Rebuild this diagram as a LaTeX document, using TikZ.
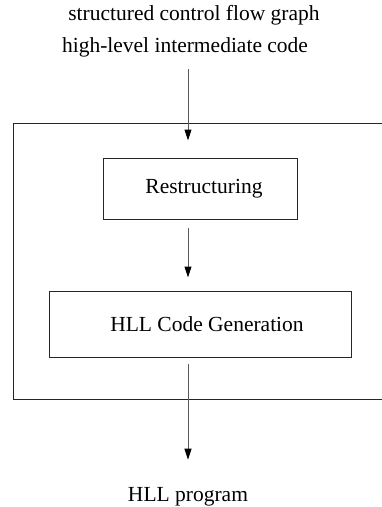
\documentclass[tikz,border=0pt]{standalone}
\usepackage{fontspec}
\setmainfont{Liberation Serif}
\usetikzlibrary{arrows.meta}
\begin{document}
\begin{tikzpicture}[x=1pt,y=-1pt,
  every node/.style={font=\fontsize{21.5}{26}\selectfont, inner sep=0pt},
  stage/.style={draw=black!85, line width=1pt, anchor=center},
  flow/.style={draw=black!65, line width=1pt,
    -{Triangle[length=11pt,width=7pt,color=black]}}]
  \useasboundingbox (0,0) rectangle (382,507);
  \begin{scope}
    \clip (0,0) rectangle (382,507);
    % enclosing frame, running past the right edge
    \draw[black!85, line width=1pt] (13,123) rectangle (400,399);
  \end{scope}
  % inputs
  \node[anchor=base] (cfg) at (194,20) {structured control flow graph};
  \node[anchor=base] (hl) at (185,52) {high-level intermediate code};
  % stages
  \node[stage, minimum width=194pt, minimum height=61pt] (rest) at (200,188.5)
    {\hspace*{8pt}Restructuring};
  \node[stage, minimum width=302pt, minimum height=66pt] (gen) at (200,324)
    {\hspace*{14pt}HLL Code Generation};
  % output
  \node[anchor=base] (out) at (188,501) {HLL program};
  % connectors
  \coordinate (in) at (188,69);
  \draw[flow, shorten >=17pt] (in) -- (in |- rest.north);
  \draw[flow, shorten <=8pt, shorten >=13pt] (in |- rest.south) -- (in |- gen.north);
  \draw[flow, shorten <=6pt, shorten >=27pt] (in |- gen.south) -- (in |- out.north);
\end{tikzpicture}
\end{document}
